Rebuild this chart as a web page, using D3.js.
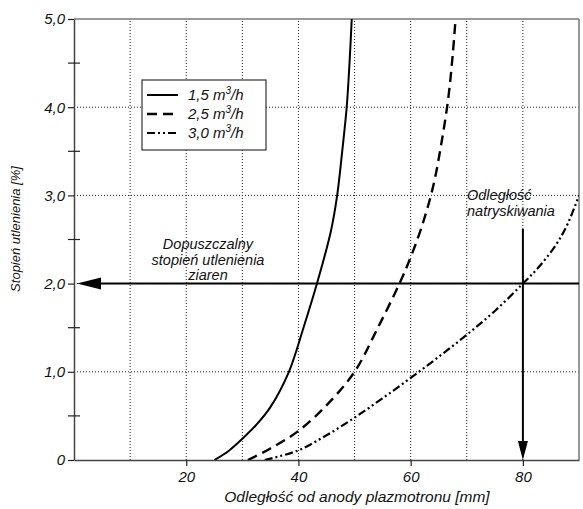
<html>
<head>
<meta charset="utf-8">
<script src="https://d3js.org/d3.v7.min.js"></script>
<style>
  body { margin: 0; background: #fff; }
  text { font-family: "Liberation Sans", Arial, sans-serif; font-style: italic; fill: #111; }
</style>
</head>
<body>
<svg width="583" height="509"></svg>
<script>
// curves: [distance mm, oxidation %]
var flow15 = [[25,0],[27.5,0.1],[30,0.24],[32.5,0.4],[35,0.6],[38.3,1.0],[40.9,1.5],[43.3,2.0],[45.8,2.6],[46.9,3.0],[47.8,3.5],[48.6,4.0],[49.1,4.5],[49.5,5.0]];
var flow25 = [[31,0],[35,0.13],[40,0.33],[45,0.62],[50,1.0],[54,1.48],[58,2.0],[60,2.3],[62,2.65],[64,3.1],[65.5,3.6],[66.7,4.1],[67.5,4.6],[68,5.0]];
var flow30 = [[34,0],[40,0.11],[45,0.28],[50,0.48],[55,0.7],[60,0.93],[65,1.17],[70,1.42],[75,1.69],[80,2.0],[83,2.2],[86,2.45],[88,2.68],[90,3.0]];

var legendLabels = ["1,5", "2,5", "3,0"];
var xTicks = [20, 40, 60, 80];
var xGrid = [10, 20, 30, 40, 50, 60, 70, 80];
var yTicks = [0, 1, 2, 3, 4, 5];
var yLabels = ["0", "1,0", "2,0", "3,0", "4,0", "5,0"];
var yGrid = [1, 2, 3, 4];
var yMinor = [0.5, 1.5, 2.5, 3.5, 4.5];
var limitValue = 2.0;     // dopuszczalny stopień utlenienia
var sprayDistance = 80;   // odległość natryskiwania
var sprayTop = 2.62;

var svg = d3.select("svg");
var x = d3.scaleLinear().domain([0, 90]).range([74, 579]);
var y = d3.scaleLinear().domain([0, 5]).range([460, 19]);

// grid
svg.append("g").selectAll("line").data(xGrid).enter().append("line")
  .attr("x1", d => x(d)).attr("x2", d => x(d))
  .attr("y1", y(0)).attr("y2", y(5))
  .attr("stroke", "#222").attr("stroke-width", 1).attr("stroke-dasharray", "1,2");
svg.append("g").selectAll("line").data(yGrid).enter().append("line")
  .attr("x1", x(0)).attr("x2", x(90))
  .attr("y1", d => y(d)).attr("y2", d => y(d))
  .attr("stroke", "#222").attr("stroke-width", 1).attr("stroke-dasharray", "1,2");

// frame top / right
svg.append("line").attr("x1", x(0)).attr("x2", x(90)).attr("y1", y(5)).attr("y2", y(5))
  .attr("stroke", "#777").attr("stroke-width", 1.5);
svg.append("line").attr("x1", x(90)).attr("x2", x(90)).attr("y1", y(0)).attr("y2", y(5))
  .attr("stroke", "#777").attr("stroke-width", 1.5);

// axes
var xAxis = svg.append("g").attr("transform", "translate(0," + y(0) + ")")
  .call(d3.axisBottom(x).tickValues(xTicks).tickSize(6).tickPadding(5).tickSizeOuter(0));
var yAxis = svg.append("g").attr("transform", "translate(" + x(0) + ",0)")
  .call(d3.axisLeft(y).tickValues(yTicks).tickFormat((d, i) => yLabels[i]).tickSize(6).tickPadding(3).tickSizeOuter(0));
[xAxis, yAxis].forEach(function(a) {
  a.selectAll("path").attr("stroke", "#444").attr("stroke-width", 1.5);
  a.selectAll("line").attr("stroke", "#222").attr("stroke-width", 1.2);
  a.selectAll("text").attr("font-size", 15).attr("fill", "#111")
    .style("font-family", '"Liberation Sans", Arial, sans-serif').style("font-style", "italic");
});
svg.append("g").selectAll("line").data(yMinor).enter().append("line")
  .attr("x1", x(0) - 6).attr("x2", x(0) + 6)
  .attr("y1", d => y(d)).attr("y2", d => y(d))
  .attr("stroke", "#222").attr("stroke-width", 1.2);

// curves
svg.append("clipPath").attr("id", "plot").append("rect")
  .attr("x", x(0)).attr("y", y(5)).attr("width", x(90) - x(0)).attr("height", y(0) - y(5));
var line = d3.line().x(d => x(d[0])).y(d => y(d[1])).curve(d3.curveCatmullRom.alpha(0.5));
var series = [
  {data: flow15, dash: null, w: 2},
  {data: flow25, dash: "10,6", w: 2.4},
  {data: flow30, dash: "8,3,2,3,2,3", w: 2.2}
];
svg.append("g").attr("clip-path", "url(#plot)").selectAll("path").data(series).enter().append("path")
  .attr("d", d => line(d.data))
  .attr("fill", "none").attr("stroke", "#000")
  .attr("stroke-width", d => d.w)
  .attr("stroke-dasharray", d => d.dash);

// arrows
svg.append("line").attr("x1", x(0) + 20).attr("x2", x(90)).attr("y1", y(limitValue)).attr("y2", y(limitValue))
  .attr("stroke", "#000").attr("stroke-width", 2);
svg.append("path")
  .attr("d", "M" + (x(0) + 3) + "," + y(limitValue) + "L" + (x(0) + 27) + "," + (y(limitValue) - 6) +
             "L" + (x(0) + 27) + "," + (y(limitValue) + 6) + "Z")
  .attr("fill", "#000");
svg.append("line").attr("x1", x(sprayDistance)).attr("x2", x(sprayDistance))
  .attr("y1", y(sprayTop)).attr("y2", y(0) - 12)
  .attr("stroke", "#000").attr("stroke-width", 2);
svg.append("path")
  .attr("d", "M" + x(sprayDistance) + "," + y(0) + "L" + (x(sprayDistance) - 5) + "," + (y(0) - 19) +
             "L" + (x(sprayDistance) + 5) + "," + (y(0) - 19) + "Z")
  .attr("fill", "#000");

// legend
var lg = svg.append("g");
lg.append("rect").attr("x", 142).attr("y", 80).attr("width", 124).attr("height", 70)
  .attr("fill", "#fff").attr("stroke", "#333").attr("stroke-width", 1.2);
series.forEach(function(s, i) {
  var ly = 95 + i * 19;
  lg.append("line").attr("x1", 147).attr("x2", 178).attr("y1", ly).attr("y2", ly)
    .attr("stroke", "#000").attr("stroke-width", s.w).attr("stroke-dasharray", s.dash);
  var t = lg.append("text").attr("x", 188).attr("y", ly + 5).attr("font-size", 15);
  t.append("tspan").text(legendLabels[i] + " m");
  t.append("tspan").attr("dy", -6).attr("font-size", 10).text("3");
  t.append("tspan").attr("dy", 6).text("/h");
});

// annotations
var note = svg.append("g").attr("font-size", 14.5).attr("text-anchor", "middle");
["Dopuszczalny", "stopień utlenienia", "ziaren"].forEach(function(s, i) {
  note.append("text").attr("x", 208).attr("y", 249 + i * 15.5).text(s);
});
var note2 = svg.append("g").attr("font-size", 14.5);
["Odległość", "natryskiwania"].forEach(function(s, i) {
  note2.append("text").attr("x", 467).attr("y", 200 + i * 15.5).text(s);
});

// titles
svg.append("text").attr("x", 357).attr("y", 502).attr("text-anchor", "middle").attr("font-size", 15.5)
  .text("Odległość od anody plazmotronu [mm]");
svg.append("text").attr("transform", "translate(20,229) rotate(-90)").attr("text-anchor", "middle")
  .attr("font-size", 13).text("Stopień utlenienia [%]");
</script>
</body>
</html>
